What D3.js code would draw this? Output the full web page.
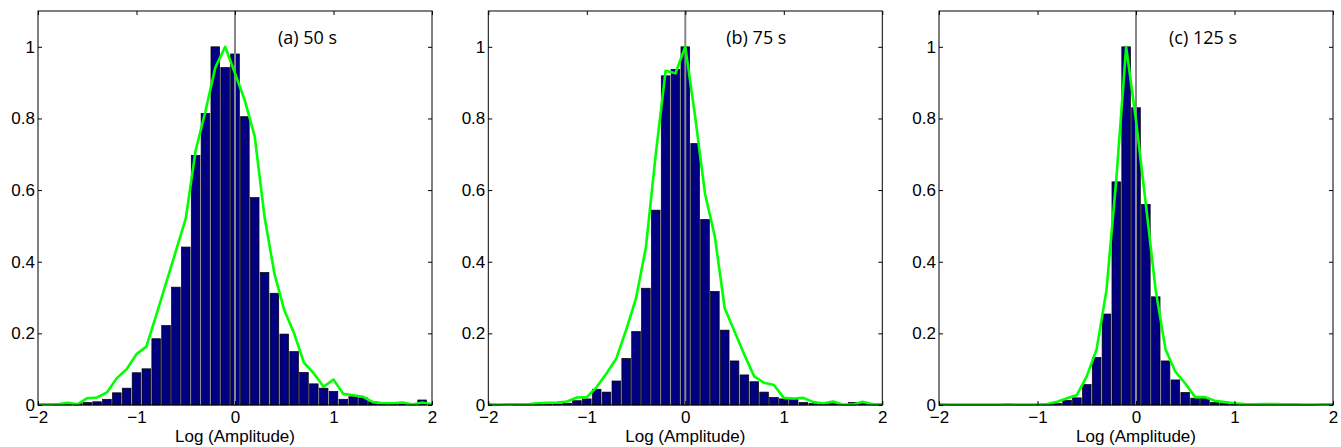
<!DOCTYPE html>
<html>
<head>
<meta charset="utf-8">
<script src="https://cdn.jsdelivr.net/npm/d3@7"></script>
<style>
  body { margin: 0; background: #fff; }
  svg { display: block; }
  .tick text { font-family: "Liberation Sans", Arial, sans-serif; font-size: 17px; fill: #000; }
  .axis path { display: none; }
  .axis line { stroke: #000; }
</style>
</head>
<body>
<div id="chart"></div>
<script>
//! ===== Data =====
// bin centres of the histograms (log amplitude)
const binCenters = [-2.0, -1.9, -1.8, -1.7, -1.6, -1.5, -1.4, -1.3, -1.2, -1.1,
                    -1.0, -0.9, -0.8, -0.7, -0.6, -0.5, -0.4, -0.3, -0.2, -0.1,
                     0.0,  0.1,  0.2,  0.3,  0.4,  0.5,  0.6,  0.7,  0.8,  0.9,
                     1.0,  1.1,  1.2,  1.3,  1.4,  1.5,  1.6,  1.7,  1.8,  1.9, 2.0];

const panelLabels = ["(a) 50 s", "(b) 75 s", "(c) 125 s"];

// normalised histogram heights
const bars50 = [0, 0, 0.001, 0.002, 0.004, 0.007, 0.009, 0.016, 0.034, 0.047,
                0.09, 0.101, 0.185, 0.222, 0.329, 0.441, 0.697, 0.814, 1.0, 0.942,
                0.98, 0.805, 0.579, 0.37, 0.312, 0.198, 0.149, 0.091, 0.059, 0.047,
                0.038, 0.016, 0.023, 0.02, 0.009, 0.005, 0.004, 0.004, 0.002, 0.014, 0];
const bars75 = [0, 0, 0, 0.001, 0.001, 0.002, 0.002, 0.003, 0.005, 0.012,
                0.017, 0.044, 0.036, 0.067, 0.13, 0.205, 0.326, 0.544, 0.919, 0.937,
                1.0, 0.73, 0.518, 0.317, 0.209, 0.123, 0.084, 0.065, 0.036, 0.021,
                0.017, 0.015, 0.007, 0.004, 0.003, 0.005, 0.002, 0.007, 0.005, 0.002, 0];
const bars125 = [0, 0, 0, 0, 0, 0, 0, 0, 0, 0,
                 0, 0.001, 0.004, 0.013, 0.02, 0.057, 0.133, 0.254, 0.623, 1.0,
                 0.83, 0.56, 0.302, 0.123, 0.07, 0.035, 0.019, 0.019, 0.007, 0.005,
                 0.004, 0.002, 0.004, 0.003, 0.002, 0.001, 0.003, 0.001, 0, 0, 0];

// green reference curves
const curve50 = [0.002, 0.002, 0.002, 0.006, 0.002, 0.019, 0.021, 0.035, 0.075, 0.10,
                 0.142, 0.163, 0.25, 0.34, 0.43, 0.52, 0.71, 0.82, 0.942, 1.0,
                 0.926, 0.85, 0.75, 0.525, 0.367, 0.265, 0.20, 0.118, 0.088, 0.051,
                 0.071, 0.031, 0.027, 0.023, 0.008, 0.005, 0.005, 0.007, 0.001, 0.007, 0.002];
const curve75 = [0.002, 0.001, 0.002, 0.002, 0.002, 0.005, 0.006, 0.007, 0.01, 0.021,
                 0.022, 0.05, 0.088, 0.13, 0.21, 0.298, 0.44, 0.70, 0.933, 0.926,
                 1.0, 0.805, 0.59, 0.47, 0.27, 0.205, 0.14, 0.08, 0.062, 0.056,
                 0.02, 0.018, 0.02, 0.008, 0.004, 0.01, 0.001, 0.001, 0.009, 0.002, 0.002];
const curve125 = [0.002, 0.001, 0.001, 0.001, 0.001, 0.001, 0.001, 0.002, 0.001, 0.001,
                  0.001, 0.003, 0.009, 0.019, 0.028, 0.08, 0.155, 0.32, 0.63, 1.0,
                  0.795, 0.56, 0.32, 0.155, 0.093, 0.06, 0.022, 0.022, 0.012, 0.008,
                  0.005, 0.003, 0.002, 0.003, 0.003, 0.002, 0.002, 0.001, 0.001, 0.002, 0.002];

const xTicks = [-2, -1, 0, 1, 2];
const yTicks = [0, 0.2, 0.4, 0.6, 0.8, 1];

//! ===== Layout =====
const W = 1341, H = 447;
const panelLefts = [38, 488.3, 939];
const labelOffsets = [240, 238, 230];
const panelTop = 11, pw = 394, ph = 394;

const svg = d3.select("#chart").append("svg")
    .attr("width", W)
    .attr("height", H);

const x = d3.scaleLinear().domain([-2, 2]).range([0, pw]);
const y = d3.scaleLinear().domain([0, 1.1]).range([ph, 0]);
const binW = x(0.1) - x(0);
const fmt = d3.format("~g");

const line = d3.line()
    .x(d => x(d[0]))
    .y(d => y(d[1]));

function drawPanel(i, bars, curve){
    const g = svg.append("g")
        .attr("transform", `translate(${panelLefts[i]},${panelTop})`);

    // histogram bars
    const barData = binCenters.map((c, k) => ({c: c, v: bars[k]})).filter(d => d.v > 0);
    g.selectAll("rect.bar")
        .data(barData)
        .enter()
        .append("rect")
        .attr("class", "bar")
        .attr("x", d => x(d.c) - binW / 2 + 0.6)
        .attr("width", binW - 1.2)
        .attr("y", d => y(d.v))
        .attr("height", d => y(0) - y(d.v))
        .attr("fill", "#000080")
        .attr("stroke", "#000")
        .attr("stroke-width", 0.7);

    // zero line
    g.append("line")
        .attr("x1", x(0)).attr("x2", x(0))
        .attr("y1", 0).attr("y2", ph)
        .attr("stroke", "#888")
        .attr("stroke-width", 2);

    // green curve
    g.append("path")
        .datum(binCenters.map((c, k) => [c, curve[k]]))
        .attr("d", line)
        .attr("fill", "none")
        .attr("stroke", "#00ff00")
        .attr("stroke-width", 2.6)
        .attr("stroke-linejoin", "round");

    // axes with inward ticks
    g.append("g").attr("class", "axis")
        .attr("transform", `translate(0,${ph})`)
        .call(d3.axisBottom(x).tickValues(xTicks).tickSize(-4).tickPadding(6).tickFormat(fmt));
    g.append("g").attr("class", "axis")
        .call(d3.axisTop(x).tickValues(xTicks).tickSize(-4).tickFormat(""));
    g.append("g").attr("class", "axis")
        .call(d3.axisLeft(y).tickValues(yTicks).tickSize(-4).tickPadding(3).tickFormat(fmt));
    g.append("g").attr("class", "axis")
        .attr("transform", `translate(${pw},0)`)
        .call(d3.axisRight(y).tickValues(yTicks).tickSize(-4).tickFormat(""));

    // box
    g.append("rect")
        .attr("width", pw).attr("height", ph)
        .attr("fill", "none")
        .attr("stroke", "#000")
        .attr("stroke-width", 1);

    // panel label
    g.append("text")
        .attr("x", labelOffsets[i])
        .attr("y", 32.5)
        .attr("font-family", "'Open Sans', sans-serif")
        .attr("font-size", 18)
        .text(panelLabels[i]);

    // x label
    g.append("text")
        .attr("x", pw / 2)
        .attr("y", 441.5 - panelTop)
        .attr("text-anchor", "middle")
        .attr("font-family", "'Liberation Sans', Arial, sans-serif")
        .attr("font-size", 17)
        .text("Log (Amplitude)");
}

drawPanel(0, bars50, curve50);
drawPanel(1, bars75, curve75);
drawPanel(2, bars125, curve125);
</script>
</body>
</html>
